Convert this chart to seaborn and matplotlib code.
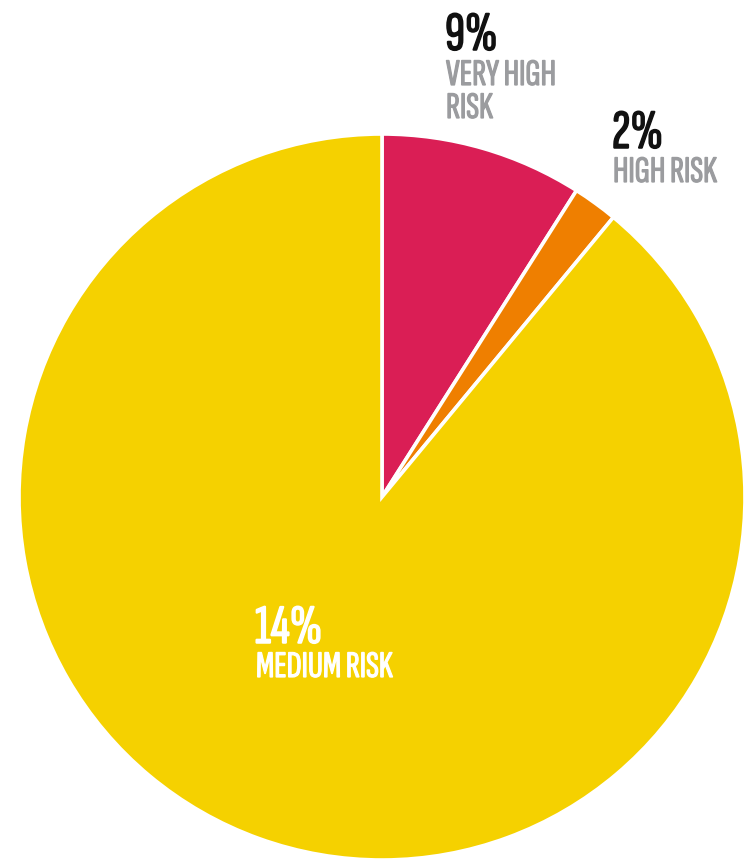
import matplotlib
matplotlib.use("Agg")
import matplotlib.pyplot as plt
import matplotlib.patheffects as pe
import seaborn as sns

# Risk categories, their stated shares, and slice colours
categories = ["VERY HIGH\nRISK", "HIGH RISK", "MEDIUM RISK"]
percent_labels = [9, 2, 14]
slice_colors = ["#DA1E55", "#EF7F00", "#F5D100"]

# The first two slices take their stated shares; medium risk fills the rest of the disc
wedge_sizes = [percent_labels[0], percent_labels[1], 100 - percent_labels[0] - percent_labels[1]]

sns.set_theme(style="white")
plt.rcParams["font.family"] = ["Sofia Sans Extra Condensed", "DejaVu Sans"]

W, H, DPI = 744, 866, 100
fig = plt.figure(figsize=(W / DPI, H / DPI), dpi=DPI)
ax = fig.add_axes([0, 0, 1, 1])

ax.pie(wedge_sizes, colors=slice_colors, startangle=90, counterclock=False,
       radius=1.0, wedgeprops=dict(edgecolor="white", linewidth=2.6))

# Same pixel scale on both axes: 1 data unit = 363 px, centre at (382, 497) px
R = 363.0
cx, cy = 382.0, 497.0
ax.set_xlim(-cx / R, (W - cx) / R)
ax.set_ylim(-(H - cy) / R, cy / R)
ax.set_aspect("auto")
ax.axis("off")


def px(x, y):
    return (x - cx) / R, (cy - y) / R


def heavy(color, width):
    # a thin outline in the text colour gives the condensed face a heavier weight
    return [pe.withStroke(linewidth=width, foreground=color)]


def pct(x, y, s, color):
    ax.text(*px(x, y), s, color=color, fontsize=40, ha="left", va="baseline",
            path_effects=heavy(color, 1.1))


def lab(x, y, s, color):
    ax.text(*px(x, y), s, color=color, fontsize=27, ha="left", va="baseline",
            path_effects=heavy(color, 0.9))


GREY = "#9B9C9F"

# Very high risk
pct(445, 50, f"{percent_labels[0]}%", "#111111")
lab(446, 85, "VERY HIGH", GREY)
lab(446, 118, "RISK", GREY)

# High risk
pct(612, 148, f"{percent_labels[1]}%", "#111111")
lab(613, 182, categories[1], GREY)

# Medium risk, inside the yellow slice
pct(255, 643, f"{percent_labels[2]}%", "white")
lab(256, 677, categories[2], "white")

fig.savefig("out.png", dpi=DPI, facecolor="white")
